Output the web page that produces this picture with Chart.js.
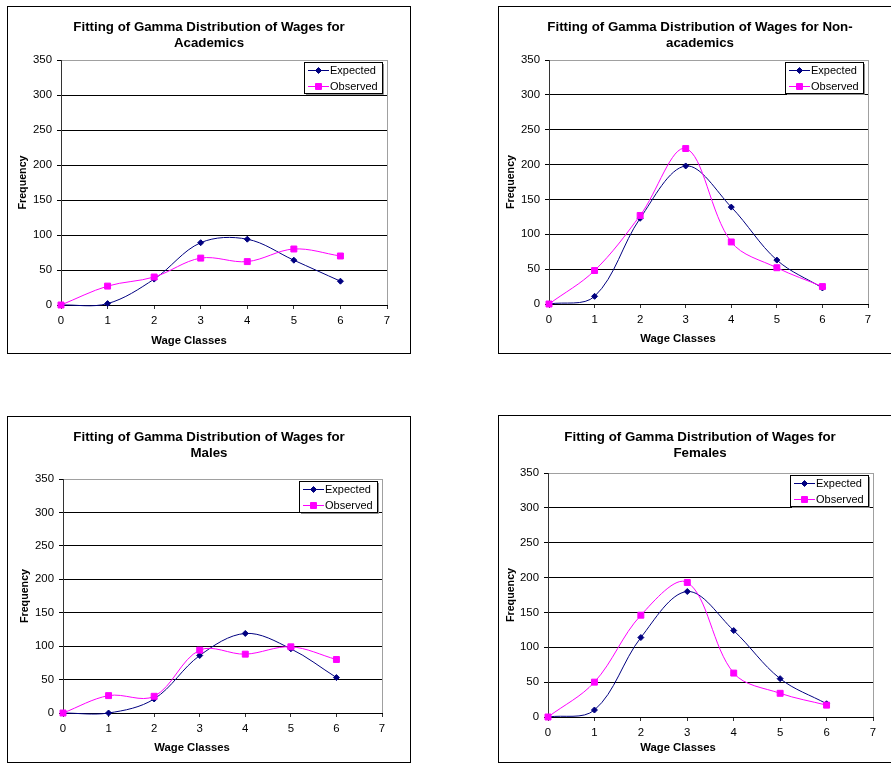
<!DOCTYPE html>
<html>
<head>
<meta charset="utf-8">
<script src="https://cdn.jsdelivr.net/npm/chart.js@4.4.0/dist/chart.umd.min.js"></script>
<style>
  body { margin: 0; background: #fff; width: 891px; height: 763px; overflow: hidden; position: relative; }
  .box { position: absolute; border: 1px solid #000; background: #fff; }
  .box canvas { display: block; }
</style>
</head>
<body>
<div class="box" style="left:7px;top:6px"><canvas id="chartA" width="402" height="346"></canvas></div>
<div class="box" style="left:498px;top:6px"><canvas id="chartB" width="402" height="346"></canvas></div>
<div class="box" style="left:7px;top:416px"><canvas id="chartC" width="402" height="345"></canvas></div>
<div class="box" style="left:498px;top:415px"><canvas id="chartD" width="402" height="346"></canvas></div>

<script>
/**************** DATA ****************/
const wageClasses = [0, 1, 2, 3, 4, 5, 6];
const xMin = 0, xMax = 7, xStep = 1;
const yMin = 0, yMax = 350, yStep = 50;
const seriesNames = ["Expected", "Observed"];

const academicsExpected = [0, 2, 37, 89, 94, 64, 34];
const academicsObserved = [0, 27, 40, 67, 62, 80, 70];

const nonAcademicsExpected = [0, 11, 123, 198, 139, 63, 23];
const nonAcademicsObserved = [0, 48, 127, 223, 89, 52, 25];

const malesExpected = [0, 0, 21, 86, 119, 96, 53];
const malesObserved = [0, 26, 25, 94, 88, 99, 80];

const femalesExpected = [0, 10, 114, 180, 124, 55, 19];
const femalesObserved = [0, 50, 146, 193, 63, 34, 17];

/**************** STYLE ****************/
const FONT = "'Liberation Sans', Arial, sans-serif";
const NAVY = "#000080";
const MAGENTA = "#ff00ff";

/**************** PLUGIN: boxed legend + x axis title ****************/
const excelExtras = {
    id: "excelExtras",
    afterDraw(chart, args, opts) {
        const { ctx, chartArea } = chart;
        const w = 78, h = 31;
        const x = Math.round(chartArea.right - opts.legendRight - w);
        const y = Math.round(chartArea.top + opts.legendTop);

        ctx.save();
        ctx.fillStyle = "#fff";
        ctx.fillRect(x, y, w, h);
        ctx.strokeStyle = "#909090";
        ctx.lineWidth = 1;
        ctx.beginPath();
        ctx.moveTo(x + w + 1.5, y + 2);
        ctx.lineTo(x + w + 1.5, y + h + 1.5);
        ctx.lineTo(x + 2, y + h + 1.5);
        ctx.stroke();
        ctx.strokeStyle = "#000";
        ctx.strokeRect(x + 0.5, y + 0.5, w, h);

        chart.data.datasets.forEach((ds, i) => {
            const cy = Math.round(y + 8 + i * 15.5) + 0.5;
            ctx.strokeStyle = ds.borderColor;
            ctx.lineWidth = 1;
            ctx.beginPath();
            ctx.moveTo(x + 4, cy);
            ctx.lineTo(x + 25, cy);
            ctx.stroke();
            ctx.fillStyle = ds.backgroundColor;
            Chart.helpers.drawPoint(ctx, {
                pointStyle: ds.pointStyle,
                radius: ds.pointRadius,
                rotation: 0,
                borderWidth: 1
            }, x + 14.5, cy);
            ctx.fillStyle = "#000";
            ctx.font = "11px " + FONT;
            ctx.textBaseline = "middle";
            ctx.textAlign = "left";
            ctx.fillText(ds.label, x + 26, cy);
        });

        ctx.font = "bold 11.3px " + FONT;
        ctx.fillStyle = "#000";
        ctx.textAlign = "center";
        ctx.textBaseline = "middle";
        ctx.fillText("Wage Classes", opts.xTitleX, opts.xTitleY);
        ctx.restore();
    }
};

/**************** CHART BUILDER ****************/
function toPoints(values) {
    return values.map((v, i) => ({ x: wageClasses[i], y: v }));
}

function makeChart(id, title, expected, observed, lay) {
    const canvas = document.getElementById(id);
    const H = canvas.height, W = canvas.width;

    return new Chart(canvas, {
        type: "line",
        data: {
            datasets: [
                {
                    label: seriesNames[0],
                    data: toPoints(expected),
                    borderColor: NAVY,
                    backgroundColor: NAVY,
                    borderWidth: 1,
                    pointStyle: "rectRot",
                    pointRadius: 3,
                    pointBorderWidth: 1,
                    tension: 0.35,
                    order: 1
                },
                {
                    label: seriesNames[1],
                    data: toPoints(observed),
                    borderColor: MAGENTA,
                    backgroundColor: MAGENTA,
                    borderWidth: 1,
                    pointStyle: "rect",
                    pointRadius: 4.2,
                    pointBorderWidth: 1,
                    tension: 0.35,
                    order: 0
                }
            ]
        },
        options: {
            responsive: false,
            animation: false,
            clip: false,
            layout: { padding: 0 },
            elements: { line: { capBezierPoints: false } },
            plugins: {
                legend: { display: false },
                tooltip: { enabled: false },
                title: {
                    display: true,
                    text: title,
                    color: "#000",
                    font: { family: FONT, size: 13.3, weight: "bold", lineHeight: "16px" },
                    padding: { top: lay.titleTop, bottom: lay.top - lay.titleTop - 32 }
                },
                excelExtras: {
                    legendRight: 5,
                    legendTop: 2,
                    xTitleX: lay.xTitleX,
                    xTitleY: lay.xTitleY
                }
            },
            scales: {
                x: {
                    type: "linear",
                    min: xMin,
                    max: xMax,
                    afterFit: s => { s.height = H - lay.bottom; },
                    ticks: {
                        stepSize: xStep,
                        color: "#000",
                        padding: 5,
                        font: { family: FONT, size: 11.4 }
                    },
                    grid: {
                        color: c => c.tick && c.tick.value === xMax ? "#a0a0a0" : "rgba(0,0,0,0)",
                        tickColor: "#333",
                        tickLength: 4
                    },
                    border: { color: "#000" }
                },
                y: {
                    min: yMin,
                    max: yMax,
                    afterFit: s => { s.width = lay.left; },
                    ticks: {
                        stepSize: yStep,
                        color: "#000",
                        padding: 5,
                        font: { family: FONT, size: 11.4 }
                    },
                    grid: {
                        color: c => c.tick && c.tick.value === yMax ? "#a0a0a0" : "#000",
                        tickColor: "#000",
                        tickLength: 4
                    },
                    border: { color: "#333" },
                    title: {
                        display: true,
                        text: "Frequency",
                        color: "#000",
                        font: { family: FONT, size: 10.7, weight: "bold" },
                        padding: { top: lay.yTitleX - 6.4, bottom: 0 }
                    }
                },
                // empty right-hand margin so the title stays centred on the whole box
                yRight: {
                    position: "right",
                    min: yMin,
                    max: yMax,
                    afterFit: s => { s.width = W - lay.right; },
                    ticks: { display: false },
                    grid: { display: false },
                    border: { display: false }
                }
            }
        },
        plugins: [excelExtras]
    });
}

makeChart("chartA",
    ["Fitting of Gamma Distribution of Wages for", "Academics"],
    academicsExpected, academicsObserved,
    { left: 53, right: 379, top: 53, bottom: 298, titleTop: 12, yTitleX: 15, xTitleX: 181, xTitleY: 334 });

makeChart("chartB",
    ["Fitting of Gamma Distribution of Wages for Non-", "academics"],
    nonAcademicsExpected, nonAcademicsObserved,
    { left: 50, right: 369, top: 53, bottom: 297, titleTop: 12, yTitleX: 12, xTitleX: 179, xTitleY: 332 });

makeChart("chartC",
    ["Fitting of Gamma Distribution of Wages for", "Males"],
    malesExpected, malesObserved,
    { left: 55, right: 374, top: 62, bottom: 296, titleTop: 12, yTitleX: 17, xTitleX: 184, xTitleY: 331 });

makeChart("chartD",
    ["Fitting of Gamma Distribution of Wages for", "Females"],
    femalesExpected, femalesObserved,
    { left: 49, right: 374, top: 57, bottom: 301, titleTop: 13, yTitleX: 12, xTitleX: 179, xTitleY: 332 });
</script>
</body>
</html>
